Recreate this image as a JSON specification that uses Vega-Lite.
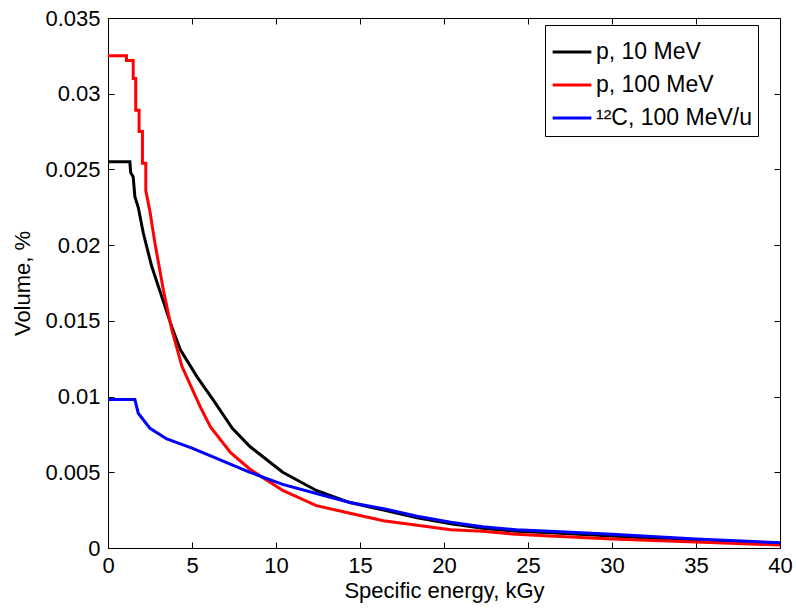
{
  "$schema": "https://vega.github.io/schema/vega-lite/v6.json",
  "width": 672,
  "height": 530,
  "autosize": "none",
  "padding": {"left": 108, "top": 18, "right": 16, "bottom": 62},
  "background": "white",
  "config": {
    "view": {"stroke": "black", "strokeWidth": 1},
    "font": "Liberation Sans",
    "axis": {"grid": false, "domain": false, "labelFont": "Liberation Sans", "titleFont": "Liberation Sans", "labelFontSize": 22, "titleFontSize": 22, "titleFontWeight": "normal", "labelColor": "black", "titleColor": "black", "tickColor": "black", "tickSize": -6, "tickWidth": 1, "labelFlush": false, "labelOverlap": false}
  },
  "data": {"values": [
    {"s": "p, 10 MeV", "x": 0, "y": 0.0255},
    {"s": "p, 10 MeV", "x": 1.3, "y": 0.0255},
    {"s": "p, 10 MeV", "x": 1.35, "y": 0.0248},
    {"s": "p, 10 MeV", "x": 1.5, "y": 0.0245},
    {"s": "p, 10 MeV", "x": 1.6, "y": 0.0232},
    {"s": "p, 10 MeV", "x": 1.8, "y": 0.0225},
    {"s": "p, 10 MeV", "x": 2.1, "y": 0.0208},
    {"s": "p, 10 MeV", "x": 2.6, "y": 0.0186},
    {"s": "p, 10 MeV", "x": 3.2, "y": 0.0166},
    {"s": "p, 10 MeV", "x": 3.8, "y": 0.0146},
    {"s": "p, 10 MeV", "x": 4.3, "y": 0.0131},
    {"s": "p, 10 MeV", "x": 5.3, "y": 0.0113},
    {"s": "p, 10 MeV", "x": 6.25, "y": 0.0098},
    {"s": "p, 10 MeV", "x": 7.4, "y": 0.0079},
    {"s": "p, 10 MeV", "x": 8.45, "y": 0.0067},
    {"s": "p, 10 MeV", "x": 10.4, "y": 0.0050},
    {"s": "p, 10 MeV", "x": 12.4, "y": 0.0038},
    {"s": "p, 10 MeV", "x": 14.4, "y": 0.0030},
    {"s": "p, 10 MeV", "x": 16.4, "y": 0.0025},
    {"s": "p, 10 MeV", "x": 18.4, "y": 0.0020},
    {"s": "p, 10 MeV", "x": 20.4, "y": 0.0016},
    {"s": "p, 10 MeV", "x": 22.3, "y": 0.0013},
    {"s": "p, 10 MeV", "x": 24.3, "y": 0.0011},
    {"s": "p, 10 MeV", "x": 26.3, "y": 0.0010},
    {"s": "p, 10 MeV", "x": 30, "y": 0.0008},
    {"s": "p, 10 MeV", "x": 35, "y": 0.0005},
    {"s": "p, 10 MeV", "x": 40, "y": 0.0003},
    {"s": "p, 100 MeV", "x": 0, "y": 0.0325},
    {"s": "p, 100 MeV", "x": 1.1, "y": 0.0325},
    {"s": "p, 100 MeV", "x": 1.1, "y": 0.0322},
    {"s": "p, 100 MeV", "x": 1.5, "y": 0.0322},
    {"s": "p, 100 MeV", "x": 1.5, "y": 0.0310},
    {"s": "p, 100 MeV", "x": 1.65, "y": 0.0310},
    {"s": "p, 100 MeV", "x": 1.65, "y": 0.0289},
    {"s": "p, 100 MeV", "x": 1.85, "y": 0.0289},
    {"s": "p, 100 MeV", "x": 1.85, "y": 0.0275},
    {"s": "p, 100 MeV", "x": 2.05, "y": 0.0275},
    {"s": "p, 100 MeV", "x": 2.05, "y": 0.0254},
    {"s": "p, 100 MeV", "x": 2.25, "y": 0.0254},
    {"s": "p, 100 MeV", "x": 2.25, "y": 0.0236},
    {"s": "p, 100 MeV", "x": 2.5, "y": 0.0222},
    {"s": "p, 100 MeV", "x": 2.8, "y": 0.0201},
    {"s": "p, 100 MeV", "x": 3.3, "y": 0.0170},
    {"s": "p, 100 MeV", "x": 3.8, "y": 0.0144},
    {"s": "p, 100 MeV", "x": 4.4, "y": 0.0120},
    {"s": "p, 100 MeV", "x": 5.5, "y": 0.0093},
    {"s": "p, 100 MeV", "x": 6.1, "y": 0.0080},
    {"s": "p, 100 MeV", "x": 7.3, "y": 0.0063},
    {"s": "p, 100 MeV", "x": 8.45, "y": 0.0052},
    {"s": "p, 100 MeV", "x": 10.4, "y": 0.0038},
    {"s": "p, 100 MeV", "x": 12.4, "y": 0.0028},
    {"s": "p, 100 MeV", "x": 14.4, "y": 0.0023},
    {"s": "p, 100 MeV", "x": 16.4, "y": 0.0018},
    {"s": "p, 100 MeV", "x": 18.4, "y": 0.0015},
    {"s": "p, 100 MeV", "x": 20.4, "y": 0.0012},
    {"s": "p, 100 MeV", "x": 22.3, "y": 0.0011},
    {"s": "p, 100 MeV", "x": 24.3, "y": 0.0009},
    {"s": "p, 100 MeV", "x": 26.3, "y": 0.0008},
    {"s": "p, 100 MeV", "x": 30, "y": 0.0006},
    {"s": "p, 100 MeV", "x": 35, "y": 0.0004},
    {"s": "p, 100 MeV", "x": 40, "y": 0.0002},
    {"s": "¹²C, 100 MeV/u", "x": 0, "y": 0.0098},
    {"s": "¹²C, 100 MeV/u", "x": 1.6, "y": 0.0098},
    {"s": "¹²C, 100 MeV/u", "x": 1.8, "y": 0.0089},
    {"s": "¹²C, 100 MeV/u", "x": 2.5, "y": 0.0079},
    {"s": "¹²C, 100 MeV/u", "x": 3.5, "y": 0.0072},
    {"s": "¹²C, 100 MeV/u", "x": 5, "y": 0.0066},
    {"s": "¹²C, 100 MeV/u", "x": 6.5, "y": 0.0059},
    {"s": "¹²C, 100 MeV/u", "x": 8.45, "y": 0.0050},
    {"s": "¹²C, 100 MeV/u", "x": 10.4, "y": 0.0042},
    {"s": "¹²C, 100 MeV/u", "x": 12.4, "y": 0.0036},
    {"s": "¹²C, 100 MeV/u", "x": 14.4, "y": 0.0030},
    {"s": "¹²C, 100 MeV/u", "x": 16.4, "y": 0.0026},
    {"s": "¹²C, 100 MeV/u", "x": 18.4, "y": 0.0021},
    {"s": "¹²C, 100 MeV/u", "x": 20.4, "y": 0.0017},
    {"s": "¹²C, 100 MeV/u", "x": 22.3, "y": 0.0014},
    {"s": "¹²C, 100 MeV/u", "x": 24.3, "y": 0.0012},
    {"s": "¹²C, 100 MeV/u", "x": 26.3, "y": 0.0011},
    {"s": "¹²C, 100 MeV/u", "x": 30, "y": 0.0009},
    {"s": "¹²C, 100 MeV/u", "x": 35, "y": 0.0006},
    {"s": "¹²C, 100 MeV/u", "x": 40, "y": 0.00035}
  ]},
  "layer": [
    {
      "mark": {"type": "line", "strokeWidth": 3, "clip": true},
      "encoding": {
        "x": {"field": "x", "type": "quantitative", "scale": {"domain": [0, 40], "nice": false, "zero": false},
              "axis": {"orient": "bottom", "values": [0,5,10,15,20,25,30,35,40], "title": "Specific energy, kGy", "labelPadding": 13, "titlePadding": 4}},
        "y": {"field": "y", "type": "quantitative", "scale": {"domain": [0, 0.035], "nice": false},
              "axis": {"orient": "left", "values": [0,0.005,0.01,0.015,0.02,0.025,0.03,0.035], "format": "~g", "title": "Volume, %", "labelPadding": 14, "titlePadding": 10}},
        "color": {"field": "s", "type": "nominal",
                  "scale": {"domain": ["p, 10 MeV", "p, 100 MeV", "¹²C, 100 MeV/u"], "range": ["#000000", "#ff0000", "#0000ff"]},
                  "legend": {"title": null, "orient": "none", "legendX": 437, "legendY": 7, "strokeColor": "black", "fillColor": "white", "padding": 6, "labelFontSize": 23, "labelFont": "Liberation Sans", "labelColor": "black", "symbolType": "stroke", "symbolStrokeWidth": 3, "symbolSize": 1500, "rowPadding": -14, "labelOffset": 3, "labelLimit": 300}}
      }
    },
    {
      "mark": {"type": "line", "opacity": 0},
      "encoding": {
        "x": {"field": "x", "type": "quantitative", "scale": {"domain": [0, 40], "nice": false, "zero": false},
              "axis": {"orient": "top", "values": [0,5,10,15,20,25,30,35,40], "labels": false, "title": null}},
        "y": {"field": "y", "type": "quantitative", "scale": {"domain": [0, 0.035], "nice": false},
              "axis": {"orient": "right", "values": [0,0.005,0.01,0.015,0.02,0.025,0.03,0.035], "labels": false, "title": null}},
        "detail": {"field": "s"}
      }
    }
  ],
  "resolve": {"axis": {"x": "independent", "y": "independent"}}
}
